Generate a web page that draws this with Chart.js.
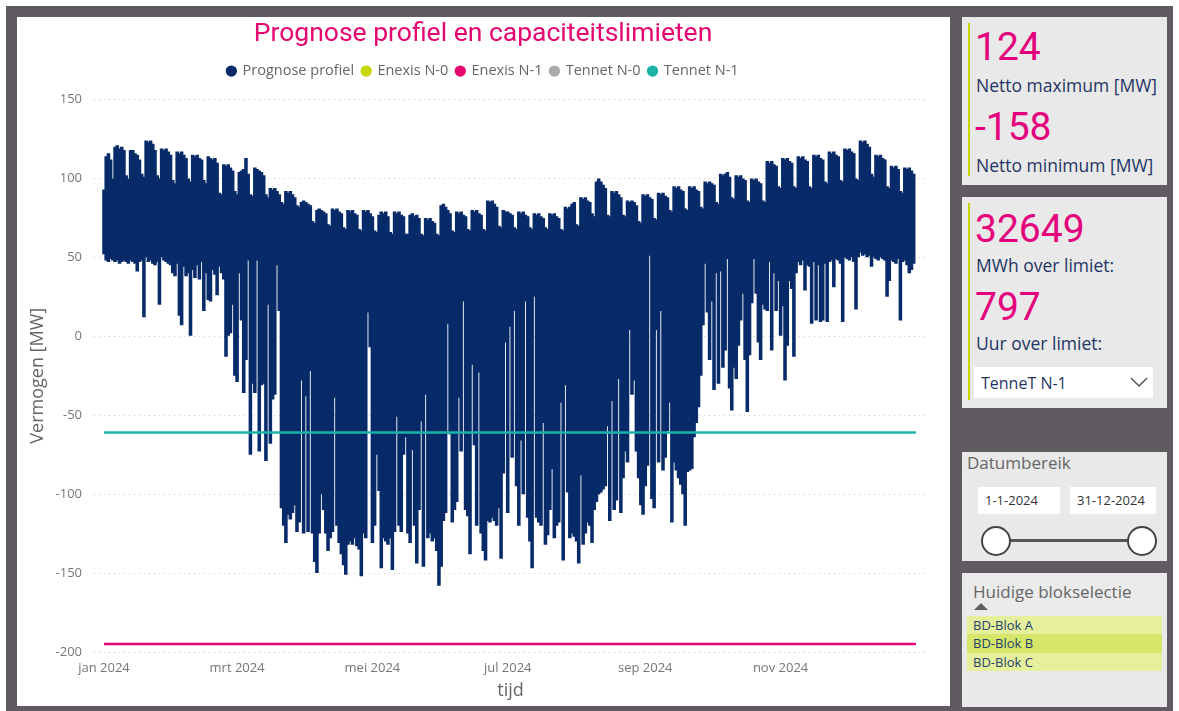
<!DOCTYPE html>
<html>
<head>
<meta charset="utf-8">
<script src="https://cdn.jsdelivr.net/npm/chart.js@4.4.1/dist/chart.umd.min.js"></script>
<style>
  body { margin: 0; width: 1179px; height: 711px; background: #fff; position: relative; overflow: hidden; font-family: "Open Sans", sans-serif; }
  .abs { position: absolute; }
  #frame { left: 6px; top: 6px; width: 1167px; height: 705px; background: #605b61; }
  #main { left: 17px; top: 17px; width: 933px; height: 689px; background: #fff; }
  .panel { background: #e8e9e8; }
  .bar { background: #c5d600; width: 2px; }
  .num { font-family: Roboto, sans-serif; font-size: 39px; line-height: 39px; color: #e4007c; white-space: nowrap; }
  .lbl { font-size: 17.5px; line-height: 22px; color: #1f3566; white-space: nowrap; }
  .grey { font-size: 17px; line-height: 22px; color: #666; white-space: nowrap; }
  .box { background: #fff; font-size: 13px; line-height: 27px; color: #333; }
  .row { left: 967px; width: 195px; font-size: 13px; color: #24406e; padding-left: 6px; box-sizing: border-box; }
</style>
</head>
<body>
<div id="frame" class="abs"></div>
<div id="main" class="abs"><canvas id="prognose" width="933" height="689"></canvas></div>

<div class="abs panel" style="left:962px;top:17px;width:205px;height:168px"></div>
<div class="abs bar" style="left:968px;top:23px;height:153px"></div>
<div class="abs num" style="left:975px;top:28px">124</div>
<div class="abs lbl" style="left:976px;top:74px">Netto maximum [MW]</div>
<div class="abs num" style="left:975px;top:108px">-158</div>
<div class="abs lbl" style="left:976px;top:154px">Netto minimum [MW]</div>

<div class="abs panel" style="left:962px;top:197px;width:205px;height:211px"></div>
<div class="abs bar" style="left:968px;top:203px;height:197px"></div>
<div class="abs num" style="left:975px;top:210px">32649</div>
<div class="abs lbl" style="left:976px;top:254px">MWh over limiet:</div>
<div class="abs num" style="left:975px;top:288px">797</div>
<div class="abs lbl" style="left:976px;top:332px">Uur over limiet:</div>
<div class="abs" style="left:974px;top:367px;width:179px;height:31px;background:#fff"></div>
<div class="abs lbl" style="left:981px;top:372px;font-size:16px">TenneT N-1</div>
<svg class="abs" style="left:1130px;top:376px" width="18" height="12"><polyline points="1,2 9,10 17,2" fill="none" stroke="#555" stroke-width="1.5"/></svg>

<div class="abs panel" style="left:962px;top:452px;width:205px;height:109px"></div>
<div class="abs grey" style="left:967px;top:452px">Datumbereik</div>
<div class="abs box" style="left:978px;top:487px;width:82px;height:27px;padding-left:7px;box-sizing:border-box">1-1-2024</div>
<div class="abs box" style="left:1070px;top:487px;width:86px;height:27px;padding-left:7px;box-sizing:border-box">31-12-2024</div>
<div class="abs" style="left:995px;top:539px;width:146px;height:3px;background:#555"></div>
<div class="abs" style="left:981px;top:526px;width:26px;height:26px;border:2px solid #444;border-radius:50%;background:#fff"></div>
<div class="abs" style="left:1127px;top:526px;width:26px;height:26px;border:2px solid #444;border-radius:50%;background:#fff"></div>

<div class="abs panel" style="left:962px;top:573px;width:205px;height:134px"></div>
<div class="abs" style="left:967px;top:578px;width:195px;height:38px;background:#ebebeb"></div>
<div class="abs grey" style="left:973px;top:581px">Huidige blokselectie</div>
<svg class="abs" style="left:974px;top:602px" width="14" height="8"><polygon points="0,8 7,1 14,8" fill="#605e5c"/></svg>
<div class="abs row" style="top:616px;height:18px;line-height:18px;background:#e6ef9c">BD-Blok A</div>
<div class="abs row" style="top:634px;height:19px;line-height:19px;background:#d6e66b">BD-Blok B</div>
<div class="abs row" style="top:653px;height:18px;line-height:18px;background:#e6ef9c">BD-Blok C</div>

<script>
// dagelijkse maximum en minimum van het prognose profiel (MW), 1 jan t/m 31 dec 2024
const dagMax = [
  93, 114, 116, 112, 100, 120, 121,
  119, 120, 118, 102, 100, 118, 118,
  116, 115, 112, 103, 101, 124, 123,
  124, 122, 118, 102, 100, 119, 118,
  119, 117, 115, 99, 97, 117, 116,
  117, 115, 113, 100, 98, 115, 114,
  115, 113, 112, 99, 97, 114, 113,
  112, 113, 110, 91, 90, 109, 108,
  109, 107, 105, 92, 90, 104, 105,
  106, 113, 103, 90, 89, 107, 106,
  105, 104, 102, 90, 88, 94, 93,
  94, 92, 90, 85, 84, 92, 91,
  92, 90, 88, 83, 82, 85, 86,
  85, 84, 83, 73, 72, 80, 81,
  80, 79, 78, 71, 70, 81, 80,
  81, 79, 78, 69, 68, 80, 79,
  80, 78, 77, 68, 67, 80, 79,
  80, 78, 76, 67, 66, 77, 79,
  78, 79, 76, 66, 65, 79, 78,
  79, 77, 76, 65, 65, 77, 78,
  76, 77, 75, 65, 64, 75, 74,
  75, 73, 72, 65, 64, 83, 84,
  82, 80, 78, 67, 66, 79, 78,
  79, 77, 76, 68, 67, 80, 79,
  80, 78, 77, 68, 67, 86, 85,
  86, 84, 82, 70, 69, 80, 79,
  79, 78, 77, 69, 68, 79, 78,
  79, 77, 76, 69, 68, 78, 77,
  78, 76, 75, 69, 68, 78, 77,
  78, 76, 75, 68, 67, 82, 81,
  82, 84, 85, 71, 70, 88, 87,
  88, 86, 85, 78, 76, 98, 100,
  98, 96, 94, 77, 76, 92, 91,
  92, 90, 88, 77, 76, 86, 85,
  86, 85, 83, 73, 72, 90, 89,
  90, 88, 87, 75, 74, 91, 90,
  91, 89, 88, 80, 79, 95, 94,
  95, 93, 92, 81, 80, 95, 94,
  95, 93, 92, 82, 81, 98, 97,
  98, 97, 96, 85, 84, 103, 102,
  103, 104, 101, 88, 87, 102, 101,
  102, 100, 99, 86, 85, 100, 99,
  100, 98, 97, 86, 85, 111, 110,
  111, 109, 108, 95, 94, 113, 112,
  113, 111, 110, 95, 94, 114, 113,
  114, 112, 111, 95, 94, 115, 114,
  115, 113, 112, 98, 97, 117, 116,
  117, 115, 114, 99, 98, 119, 118,
  119, 117, 116, 100, 99, 124, 123,
  124, 122, 120, 103, 101, 115, 114,
  115, 113, 112, 95, 94, 108, 107,
  108, 106, 92, 91, 107, 106, 107,
  105, 103
];
const dagMin = [
  52, 48, 47, 49, 48, 47, 48,
  46, 47, 48, 47, 46, 48, 47,
  46, 41, 47, 48, 12, 50, 47,
  48, 46, 45, 47, 20, 50, 48,
  47, 46, 45, 40, 38, 46, 13,
  7, 44, 38, 40, 0, 42, 37,
  45, 36, 47, 16, 40, 23, 22,
  42, 39, 26, 44, 40, 36, -13,
  0, 2, 20, -25, -29, 40, 10,
  -36, -15, 48, -75, -30, -36, 48,
  -73, -31, -30, -79, 20, -68, -40,
  -37, 45, 16, -109, -120, -131, -113,
  -116, -112, -107, -124, -118, -28, -125,
  -38, -124, -22, -125, -143, -150, -125,
  -100, -110, -125, -136, -128, -124, -39,
  -120, -131, -138, -145, -151, -132, -130,
  -132, -128, -133, -135, -152, -125, -128,
  15, -7, -131, -120, -75, -98, -147,
  -128, -130, -132, -128, -148, -124, -51,
  -120, -124, -75, -64, -125, -131, -72,
  -120, -144, -110, -54, -146, -37, -128,
  -125, -130, -128, -136, -158, -146, -117,
  -112, 8, -62, -118, -110, -105, -39,
  -73, 22, -110, -114, -138, -18, -69,
  -120, -23, -125, -136, -142, -117, -118,
  -115, -117, -120, -109, -141, -87, -4,
  -112, 6, -77, 16, -95, -120, -66,
  -100, 22, -115, -130, -147, 25, -115,
  -118, -120, -55, -132, -126, -110, -84,
  -128, -120, -118, -42, -142, -31, -99,
  -128, -125, -127, -130, -144, -88, -132,
  -125, -118, -120, -131, -110, -105, -100,
  -99, -97, -95, -57, -117, -41, -110,
  -104, -27, -112, -90, -73, -80, 4,
  -37, -28, -73, -90, -107, -113, -95,
  -82, 51, -103, -109, 4, -80, 16,
  -85, -77, -60, -42, -118, -80, -85,
  -90, -94, -100, -120, -86, -85, -84,
  -64, -55, -45, -25, 7, 46, 15,
  -15, 22, -34, 40, -30, 41, -20,
  -9, 49, -33, -47, -20, -27, -6,
  10, 27, -15, -48, -12, 21, 49,
  27, -4, -15, 20, 17, 16, 47,
  -9, 40, 16, 35, 0, 19, -28,
  -6, 35, 30, -13, 40, 47, 45,
  48, 29, 45, 44, 8, 47, 10,
  45, 9, 10, 46, 9, 47, 48,
  31, 49, 48, 46, 9, 50, 49,
  48, 50, 47, 17, 50, 53, 51,
  52, 50, 51, 44, 50, 49, 48,
  50, 49, 48, 25, 35, 48, 47,
  46, 49, 10, 47, 48, 45, 40,
  42, 46
];

// capaciteitslimieten (MW), begin- en einddag van het jaar
const limietDagen = [0, 366];
const enexisN0 = [];
const enexisN1 = [-195, -195];
const tennetN0 = [];
const tennetN1 = [-61, -61];

// as-labels
const maandDagen = [0, 60, 121, 182, 244, 305];
const maandLabels = ['jan 2024', 'mrt 2024', 'mei 2024', 'jul 2024', 'sep 2024', 'nov 2024'];

const greyText = '#767676';

function limietPunten(waarden) {
    return waarden.map((v, i) => ({x: limietDagen[i], y: v}));
}

document.addEventListener("DOMContentLoaded", function () {
    const ctx = document.getElementById("prognose").getContext("2d");

    new Chart(ctx, {
        type: 'bar',
        data: {
            datasets: [{
                label: 'Prognose profiel',
                data: dagMax.map((v, i) => ({x: i, y: [dagMin[i], v]})),
                backgroundColor: '#072a69',
                borderWidth: 0,
                barPercentage: 1.6,
                categoryPercentage: 1,
                order: 2
            }, {
                type: 'line',
                label: 'Enexis N-0',
                data: limietPunten(enexisN0),
                borderColor: '#c5d600',
                backgroundColor: '#c5d600',
                pointRadius: 0,
                order: 1
            }, {
                type: 'line',
                label: 'Enexis N-1',
                data: limietPunten(enexisN1),
                borderColor: '#e5066f',
                backgroundColor: '#e5066f',
                borderWidth: 2.5,
                pointRadius: 0,
                order: 1
            }, {
                type: 'line',
                label: 'Tennet N-0',
                data: limietPunten(tennetN0),
                borderColor: '#aaaaaa',
                backgroundColor: '#aaaaaa',
                pointRadius: 0,
                order: 1
            }, {
                type: 'line',
                label: 'Tennet N-1',
                data: limietPunten(tennetN1),
                borderColor: '#1bb3a8',
                backgroundColor: '#1bb3a8',
                borderWidth: 2.5,
                pointRadius: 0,
                order: 1
            }]
        },
        options: {
            responsive: false,
            animation: false,
            devicePixelRatio: 1,
            layout: { padding: { left: 22, right: 23, top: 0, bottom: 0 } },
            scales: {
                x: {
                    type: 'linear',
                    min: -4.5,
                    max: 371,
                    offset: false,
                    grid: { display: false, drawTicks: false },
                    border: { display: false },
                    afterBuildTicks: function (scale) {
                        scale.ticks = maandDagen.map(v => ({value: v}));
                    },
                    afterFit: function (scale) { scale.height = 54; },
                    ticks: {
                        autoSkip: false,
                        maxRotation: 0,
                        padding: 8,
                        color: greyText,
                        font: { family: 'Open Sans', size: 13 },
                        callback: function (value) {
                            return maandLabels[maandDagen.indexOf(value)];
                        }
                    },
                    title: {
                        display: true,
                        text: 'tijd',
                        color: '#666',
                        font: { family: 'Open Sans', size: 18 },
                        padding: { top: 0, bottom: 4 }
                    }
                },
                y: {
                    min: -200,
                    max: 150,
                    afterFit: function (scale) { scale.width = 55; },
                    ticks: {
                        stepSize: 50,
                        padding: 12,
                        color: greyText,
                        font: { family: 'Open Sans', size: 13 }
                    },
                    grid: { color: '#c9c9c9', drawTicks: false },
                    border: { display: false, dash: [1, 4] },
                    title: {
                        display: true,
                        text: 'Vermogen [MW]',
                        color: '#666',
                        font: { family: 'Open Sans', size: 18 },
                        padding: { top: -11.8, bottom: 0 }
                    }
                }
            },
            plugins: {
                title: {
                    display: true,
                    text: 'Prognose profiel en capaciteitslimieten',
                    color: '#e5066f',
                    font: { family: 'Roboto', size: 26.5, weight: 'normal' },
                    padding: { top: 1, bottom: 6 }
                },
                subtitle: {
                    display: true,
                    text: '',
                    weight: 100,
                    font: { size: 10, lineHeight: 1.12 },
                    padding: 0
                },
                legend: {
                    labels: {
                        usePointStyle: true,
                        pointStyle: 'circle',
                        boxWidth: 8,
                        boxHeight: 8,
                        padding: 8,
                        color: '#666',
                        font: { family: 'Open Sans', size: 14.5 },
                        sort: (a, b) => a.datasetIndex - b.datasetIndex,
                        generateLabels: function (chart) {
                            const items = Chart.defaults.plugins.legend.labels.generateLabels(chart);
                            items.forEach(it => { it.lineWidth = 0; it.strokeStyle = it.fillStyle; });
                            return items;
                        }
                    }
                },
                tooltip: { enabled: false }
            }
        }
    });
});
</script>
</body>
</html>
